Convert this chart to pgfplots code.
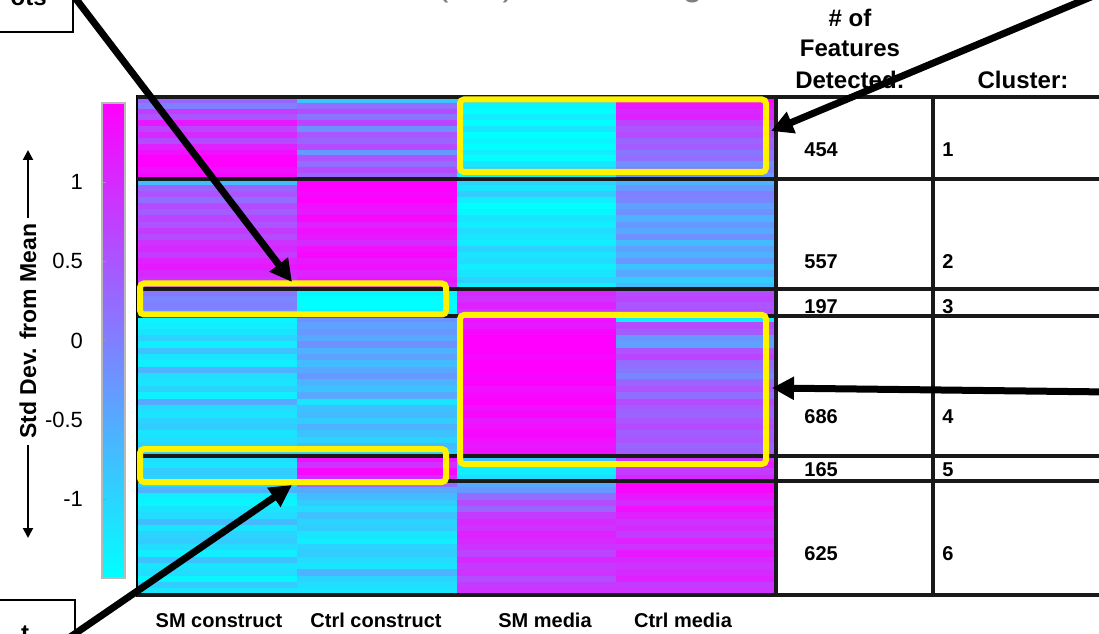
\documentclass[border=0pt]{standalone}
\usepackage{pgfplots}
\pgfplotsset{compat=1.18}
\usepackage{fontspec}
\setmainfont{Liberation Sans}
\usetikzlibrary{arrows.meta}

% heatmap cell: one column wide (79.75pt), 1pt tall, scaled per cluster
\pgfdeclareplotmark{cell}{%
  \pgfpathrectangle{\pgfpoint{-40pt}{-0.5pt}}{\pgfpoint{80pt}{1pt}}%
  \pgfusepathqfill}

% one column of one cluster: #1 column centre, #2 top px, #3 bottom px, #4 rows, #5 cell height (pt), #6 values top to bottom
\newcommand{\cellcol}[6]{%
\addplot[scatter, only marks, mark=cell, mark options={yscale=#5},
   point meta=explicit,
   scatter/use mapped color={draw=none, fill=mapped color}]
 table[header=false, row sep=\\, meta index=0,
   x expr={#1},
   y expr={#2+(\coordindex+0.5)*(#3-#2)/#4}] {#6};}

\begin{document}
\begin{tikzpicture}
\useasboundingbox (0,0) rectangle (549.5pt,316.5pt);
\clip (0,0) rectangle (549.5pt,316.5pt);

% colour scale
\begin{axis}[
  at={(51pt,27.5pt)}, anchor=south west,
  scale only axis, width=11.5pt, height=237.5pt,
  xmin=0, xmax=1, ymin=-1.5, ymax=1.5,
  colormap={mycool}{rgb255=(0,255,255) rgb255=(255,0,255)},
  point meta min=-1.5, point meta max=1.5,
  xtick=\empty,
  ytick={-1,-0.5,0,0.5,1},
  yticklabels={-1,-0.5,0,0.5,1},
  ytick pos=left, yticklabel pos=left,
  yticklabel style={font=\fontsize{11}{13}\selectfont, xshift=-6pt},
  axis line style={gray!55, line width=0.6pt},
  major tick length=2pt,
  ytick style={gray!80},
  tick align=inside,
  axis on top,
]
\addplot[surf, shader=interp, point meta=y, mesh/cols=2] coordinates {
  (0,-1.5) (1,-1.5)

  (0,1.5) (1,1.5)
};
\end{axis}

% heatmap
\begin{axis}[
  at={(69pt,19pt)}, anchor=south west,
  scale only axis, width=319pt, height=249pt,
  xmin=0, xmax=4, ymin=97, ymax=595, y dir=reverse,
  xtick=\empty, ytick=\empty,
  axis on top,
  axis line style={line width=2pt},
  colormap={mycool}{rgb255=(0,255,255) rgb255=(255,0,255)},
  point meta min=-1.5, point meta max=1.5,
]
% Cluster 1
\cellcol{0.5}{97}{179}{14}{3.1}{0.3 \\ 0.0 \\ 0.8 \\ 0.5 \\ 1.2 \\ 0.7 \\ 1.0 \\ 0.6 \\ 1.1 \\ 1.3 \\ 1.5 \\ 1.5 \\ 1.3 \\ 1.4 \\}
\cellcol{1.5}{97}{179}{14}{3.1}{-0.8 \\ 0.2 \\ 0.6 \\ 0.1 \\ 0.7 \\ -0.2 \\ 0.5 \\ 0.3 \\ 0.6 \\ -0.3 \\ 0.5 \\ 0.2 \\ 0.6 \\ 0.3 \\}
\cellcol{2.5}{97}{179}{14}{3.1}{-1.1 \\ -1.4 \\ -1.5 \\ -1.3 \\ -1.5 \\ -1.2 \\ -1.5 \\ -1.4 \\ -1.5 \\ -1.3 \\ -1.5 \\ -1.2 \\ -1.0 \\ -1.4 \\}
\cellcol{3.5}{97}{179}{14}{3.1}{1.5 \\ 1.2 \\ 1.0 \\ 1.1 \\ 0.7 \\ 0.5 \\ 0.6 \\ 0.3 \\ 0.4 \\ 0.1 \\ 0.2 \\ -0.2 \\ 0.0 \\ -0.3 \\}
% Cluster 2
\cellcol{0.5}{179}{289}{18}{3.25}{-0.7 \\ 0.3 \\ 0.5 \\ 0.2 \\ 0.6 \\ 0.4 \\ 0.7 \\ 0.5 \\ 0.8 \\ 0.6 \\ 0.9 \\ 1.0 \\ 0.8 \\ 1.1 \\ 1.2 \\ 1.0 \\ 0.9 \\ 0.7 \\}
\cellcol{1.5}{179}{289}{18}{3.25}{1.5 \\ 1.5 \\ 1.4 \\ 1.5 \\ 1.3 \\ 1.2 \\ 1.4 \\ 1.1 \\ 1.3 \\ 1.2 \\ 1.0 \\ 1.3 \\ 1.4 \\ 1.2 \\ 1.3 \\ 1.1 \\ 1.2 \\ 1.0 \\}
\cellcol{2.5}{179}{289}{18}{3.25}{-1.0 \\ -1.2 \\ -0.9 \\ -1.3 \\ -1.5 \\ -1.4 \\ -1.2 \\ -1.3 \\ -1.1 \\ -1.2 \\ -1.3 \\ -1.0 \\ -1.2 \\ -1.1 \\ -1.3 \\ -1.2 \\ -1.0 \\ -1.3 \\}
\cellcol{3.5}{179}{289}{18}{3.25}{-0.6 \\ -0.3 \\ 0.0 \\ -0.1 \\ -0.4 \\ -0.2 \\ -0.6 \\ -0.3 \\ -0.5 \\ -0.2 \\ -0.7 \\ -0.4 \\ -0.6 \\ -0.3 \\ -0.8 \\ -0.5 \\ -0.9 \\ -0.7 \\}
% Cluster 3
\cellcol{0.5}{289}{316}{4}{3.55}{0.1 \\ -0.1 \\ 0.0 \\ -0.2 \\}
\cellcol{1.5}{289}{316}{4}{3.55}{-1.4 \\ -1.5 \\ -1.5 \\ -1.4 \\}
\cellcol{2.5}{289}{316}{4}{3.55}{1.0 \\ 0.9 \\ 1.1 \\ 0.8 \\}
\cellcol{3.5}{289}{316}{4}{3.55}{0.6 \\ 0.7 \\ 0.5 \\ 0.6 \\}
% Cluster 4
\cellcol{0.5}{316}{456}{22}{3.35}{-1.4 \\ -1.3 \\ -1.2 \\ -1.0 \\ -1.3 \\ -0.8 \\ -1.2 \\ -1.3 \\ -0.6 \\ -1.1 \\ -1.2 \\ -1.0 \\ -1.3 \\ -0.5 \\ -1.1 \\ -1.2 \\ -1.0 \\ -0.9 \\ -1.2 \\ -1.1 \\ -1.0 \\ -0.9 \\}
\cellcol{1.5}{316}{456}{22}{3.35}{-0.2 \\ -0.4 \\ -0.3 \\ -0.5 \\ -0.2 \\ -0.6 \\ -0.4 \\ -0.7 \\ -0.5 \\ -0.3 \\ -0.6 \\ -0.8 \\ -0.5 \\ -1.2 \\ -0.8 \\ -0.7 \\ -0.9 \\ -0.6 \\ -0.8 \\ -1.0 \\ -0.7 \\ -0.9 \\}
\cellcol{2.5}{316}{456}{22}{3.35}{1.3 \\ 1.2 \\ 1.4 \\ 1.5 \\ 1.5 \\ 1.5 \\ 1.4 \\ 1.5 \\ 1.5 \\ 1.4 \\ 1.5 \\ 1.3 \\ 1.4 \\ 1.5 \\ 1.3 \\ 1.4 \\ 1.2 \\ 1.3 \\ 1.4 \\ 1.3 \\ 1.2 \\ 1.3 \\}
\cellcol{3.5}{316}{456}{22}{3.35}{-1.3 \\ 0.6 \\ 0.4 \\ -0.3 \\ -0.4 \\ 0.5 \\ 0.7 \\ 0.2 \\ 0.1 \\ -0.1 \\ 0.3 \\ 0.5 \\ 0.2 \\ 0.6 \\ 0.4 \\ 0.3 \\ 0.5 \\ 0.6 \\ 0.4 \\ 0.5 \\ 0.3 \\ 0.4 \\}
% Cluster 5
\cellcol{0.5}{456}{481}{4}{3.3}{-1.1 \\ -1.2 \\ -0.9 \\ -1.0 \\}
\cellcol{1.5}{456}{481}{4}{3.3}{1.3 \\ 0.9 \\ 1.4 \\ 1.0 \\}
\cellcol{2.5}{456}{481}{4}{3.3}{-0.8 \\ -1.2 \\ -1.3 \\ -1.1 \\}
\cellcol{3.5}{456}{481}{4}{3.3}{0.9 \\ 1.2 \\ 0.8 \\ 1.0 \\}
% Cluster 6
\cellcol{0.5}{481}{595}{18}{3.35}{-1.0 \\ -0.6 \\ -1.3 \\ -1.4 \\ -1.2 \\ -1.1 \\ -0.7 \\ -1.2 \\ -1.0 \\ -0.9 \\ -1.1 \\ -1.3 \\ -0.8 \\ -1.2 \\ -1.1 \\ -1.4 \\ -0.9 \\ -1.2 \\}
\cellcol{1.5}{481}{595}{18}{3.35}{0.2 \\ -0.5 \\ -0.7 \\ -0.9 \\ -1.1 \\ -0.8 \\ -1.0 \\ -0.9 \\ -1.2 \\ -1.3 \\ -1.0 \\ -0.9 \\ -1.1 \\ -1.2 \\ -0.6 \\ -1.0 \\ -1.1 \\ -1.2 \\}
\cellcol{2.5}{481}{595}{18}{3.35}{-0.5 \\ -0.3 \\ 0.2 \\ 0.6 \\ 0.3 \\ 0.8 \\ 1.0 \\ 0.9 \\ 1.1 \\ 1.0 \\ 0.9 \\ 0.7 \\ 1.0 \\ 0.8 \\ 0.9 \\ 0.6 \\ 0.8 \\ 0.9 \\}
\cellcol{3.5}{481}{595}{18}{3.35}{1.5 \\ 1.4 \\ 1.2 \\ 1.0 \\ 1.3 \\ 1.1 \\ 0.9 \\ 1.0 \\ 0.8 \\ 1.1 \\ 0.9 \\ 1.2 \\ 1.0 \\ 0.9 \\ 1.0 \\ 1.1 \\ 0.8 \\ 0.9 \\}
\end{axis}

\begin{scope}[x=0.5pt, y=-0.5pt, shift={(0pt,316.5pt)}]
  % title fragments (cut off at top)
  \node[font=\fontsize{18}{20}\selectfont, text=gray, anchor=base east, inner sep=0] at (515,-4) {(SM)};
  \node[font=\fontsize{18}{20}\selectfont, text=gray, anchor=base east, inner sep=0] at (703,-4) {Clustering};
  % callout boxes (cut off)
  \draw[line width=0.7pt] (-5,32) -- (73,32) -- (73,-5);
  \node[font=\bfseries\fontsize{12}{14}\selectfont, anchor=base east, inner sep=0] at (47,6) {ots};
  \draw[line width=0.7pt] (-5,600) -- (75,600) -- (75,640);
  \node[font=\bfseries\fontsize{12}{14}\selectfont, anchor=north, inner sep=0] at (25,625) {t};

  % table header
  \node[font=\bfseries\fontsize{12}{14}\selectfont, anchor=base] at (850,27) {\# of};
  \node[font=\bfseries\fontsize{12}{14}\selectfont, anchor=base] at (850,57) {Features};
  \node[font=\bfseries\fontsize{12}{14}\selectfont, anchor=base] at (850,89) {Detected:};
  \node[font=\bfseries\fontsize{12}{14}\selectfont, anchor=base] at (1023,89) {Cluster:};

  % table entries
  \begin{scope}[every node/.style={font=\bfseries\fontsize{10}{12}\selectfont, anchor=base west, inner sep=0}]
    \node at (804,157) {454}; \node at (942,157) {1};
    \node at (804,269) {557}; \node at (942,269) {2};
    \node at (804,314) {197}; \node at (942,314) {3};
    \node at (804,423) {686}; \node at (942,423) {4};
    \node at (804,477) {165}; \node at (942,477) {5};
    \node at (804,560) {625}; \node at (942,560) {6};
  \end{scope}

  % grid lines
  \begin{scope}[line width=2pt, black!90]
    \foreach \yy in {97,179,289,316,456,481,595}
      \draw (137,\yy) -- (1110,\yy);
    \draw (776,96) -- (776,596);
    \draw (933,96) -- (933,596);
  \end{scope}

  % column labels
  \begin{scope}[every node/.style={font=\bfseries\fontsize{10}{12}\selectfont, anchor=base, inner sep=0}]
    \node at (219,627) {SM construct};
    \node at (376,627) {Ctrl construct};
    \node at (545,627) {SM media};
    \node at (683,627) {Ctrl media};
  \end{scope}

  % colorbar label with arrows
  \node[font=\bfseries\fontsize{11.5}{13}\selectfont, rotate=90, inner sep=0] at (28,331) {Std Dev. from Mean};
  \draw[line width=1pt, -{Triangle[length=5pt,width=5pt]}] (28,218) -- (28,150);
  \draw[line width=1pt, -{Triangle[length=5pt,width=5pt]}] (28,445) -- (28,538);

  % yellow highlight boxes
  \begin{scope}[draw=yellow, line width=3pt, rounded corners=2pt]
    \draw (460,99.5) rectangle (766,172);
    \draw (140,283.5) rectangle (446,314.5);
    \draw (460,315) rectangle (766,464);
    \draw (140,449) rectangle (446,482);
  \end{scope}

  % arrows
  \begin{scope}[line width=3.5pt, -{Triangle[length=11pt,width=11pt]}]
    \draw (60,-22) -- (292,282);
    \draw (1110,-11) -- (771,131);
    \draw (1110,392) -- (772,388);
    \draw (60,644) -- (292,485);
  \end{scope}
\end{scope}
\end{tikzpicture}
\end{document}
